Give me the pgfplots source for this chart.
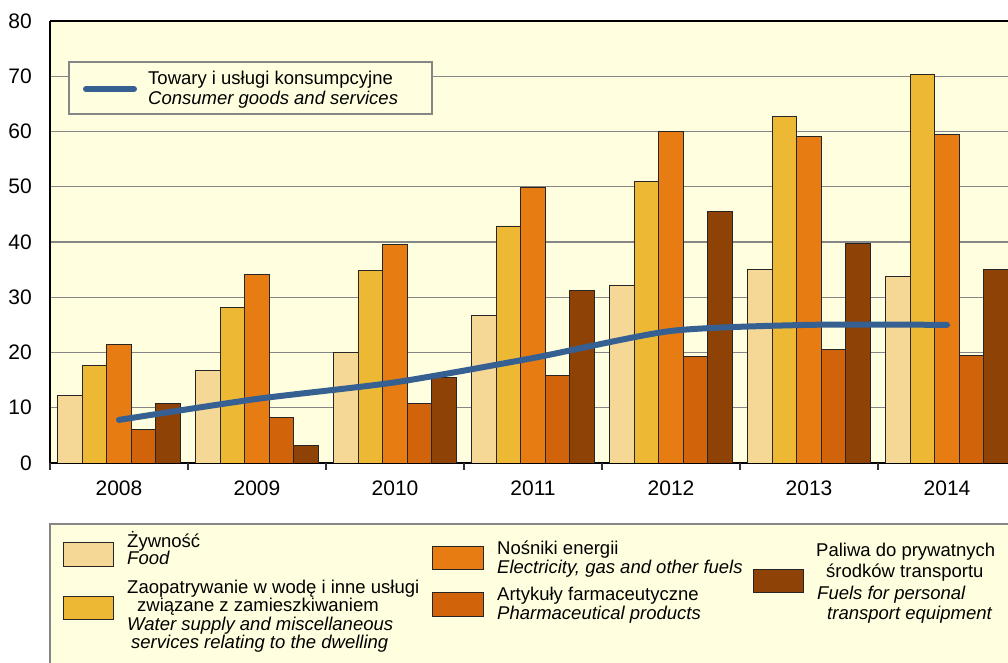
\documentclass[border=0pt]{standalone}
\usepackage{fontspec}
\setmainfont{Liberation Sans}
\usepackage{pgfplots}
\pgfplotsset{compat=1.18}
\definecolor{bg}{RGB}{255,255,224}
\definecolor{cfood}{RGB}{245,216,150}
\definecolor{cwater}{RGB}{237,185,53}
\definecolor{cenergy}{RGB}{230,124,18}
\definecolor{cpharma}{RGB}{209,100,10}
\definecolor{cfuel}{RGB}{142,66,5}
\definecolor{cline}{RGB}{54,96,146}
\definecolor{cgrid}{RGB}{134,134,134}
\begin{document}
\begin{tikzpicture}
\begin{axis}[
  at={(50pt,200pt)}, anchor=south west,
  width=958pt, height=442pt, scale only axis,
  xmin=-0.5, xmax=6.442, ymin=0, ymax=80,
  axis background/.style={fill=bg},
  axis x line*=bottom, axis y line*=left,
  axis line style={black, line width=1.2pt},
  ytick={0,10,...,80},
  xtick={0,1,2,3,4,5,6},
  xticklabels={2008,2009,2010,2011,2012,2013,2014},
  major tick length=0pt,
  ymajorgrids, grid style={cgrid, line width=1.3pt},
  /pgf/number format/assume math mode=true,
  tick label style={font=\fontsize{21}{24}\selectfont, inner sep=0pt},
  xticklabel style={anchor=north, yshift=-18pt},
  yticklabel style={anchor=east, xshift=-18pt},
  every axis plot/.append style={line width=0.9pt},
]
\addplot[ybar, bar width=24.6pt, bar shift=-49.2pt, fill=cfood, draw=black!85] coordinates {(0,12.2) (1,16.7) (2,20.0) (3,26.7) (4,32.1) (5,35.1) (6,33.8)};
\addplot[ybar, bar width=24.6pt, bar shift=-24.6pt, fill=cwater, draw=black!85] coordinates {(0,17.6) (1,28.2) (2,34.9) (3,42.9) (4,50.9) (5,62.8) (6,70.4)};
\addplot[ybar, bar width=24.6pt, bar shift=0pt, fill=cenergy, draw=black!85] coordinates {(0,21.5) (1,34.2) (2,39.6) (3,49.9) (4,60.0) (5,59.1) (6,59.4)};
\addplot[ybar, bar width=24.6pt, bar shift=24.6pt, fill=cpharma, draw=black!85] coordinates {(0,6.0) (1,8.2) (2,10.8) (3,15.9) (4,19.3) (5,20.6) (6,19.4)};
\addplot[ybar, bar width=24.6pt, bar shift=49.2pt, fill=cfuel, draw=black!85] coordinates {(0,10.7) (1,3.1) (2,15.5) (3,31.3) (4,45.5) (5,39.8) (6,35.1)};
\addplot[cline, line width=6pt, line cap=round, smooth, tension=0.4, mark=none] coordinates {(0,7.8) (1,11.6) (2,14.6) (3,19.0) (4,23.9) (5,25.0) (6,25.0)};
\end{axis}
\begin{scope}[x=1pt, y=-1pt, yshift=663pt]
  % top frame line
  \draw[black, line width=1.2pt] (50,21) -- (1010,21);
  % category boundary ticks
  \foreach \k in {0,...,6} {\draw[black!80, line width=1.2pt] ({50+138*\k},463) -- ++(0,7);}
  % line legend
  \draw[cgrid, line width=1.2pt, fill=bg] (69,62) rectangle (432,114);
  \draw[cline, line width=6pt, line cap=round] (86,89) -- (134,89);
  \begin{scope}[every node/.style={inner sep=0pt, anchor=base west, font=\fontsize{18.5}{22}\selectfont}]
  \node at (148,85) {Towary i usługi konsumpcyjne};
  \node at (148,105) {\itshape Consumer goods and services};
  % bottom legend box
  \draw[cgrid, line width=1.3pt, fill=bg] (50,524) rectangle (1020,680);
  \draw[black!85, line width=1pt, fill=cfood]   (63,543) rectangle (113,567);
  \draw[black!85, line width=1pt, fill=cwater]  (63,597) rectangle (113,620);
  \draw[black!85, line width=1pt, fill=cenergy] (432,547) rectangle (483,570);
  \draw[black!85, line width=1pt, fill=cpharma] (432,593) rectangle (483,617);
  \draw[black!85, line width=1pt, fill=cfuel]   (753,570) rectangle (803,593);
  \node at (127,548) {Żywność};
  \node at (127,565) {\itshape Food};
  \node at (127,594) {Zaopatrywanie w wodę i inne usługi};
  \node at (137,612) {związane z zamieszkiwaniem};
  \node at (127,631) {\itshape Water supply and miscellaneous};
  \node at (131,649) {\itshape services relating to the dwelling};
  \node at (497,555) {Nośniki energii};
  \node at (497,574) {\itshape Electricity, gas and other fuels};
  \node at (497,601) {Artykuły farmaceutyczne};
  \node at (497,620) {\itshape Pharmaceutical products};
  \node at (816,557) {Paliwa do prywatnych};
  \node at (826,578) {środków transportu};
  \node at (817,600) {\itshape Fuels for personal};
  \node at (827,620) {\itshape transport equipment};
  \end{scope}
\end{scope}
\pgfresetboundingbox
\useasboundingbox (0pt,0pt) rectangle (1008pt,663pt);
\end{tikzpicture}
\end{document}
